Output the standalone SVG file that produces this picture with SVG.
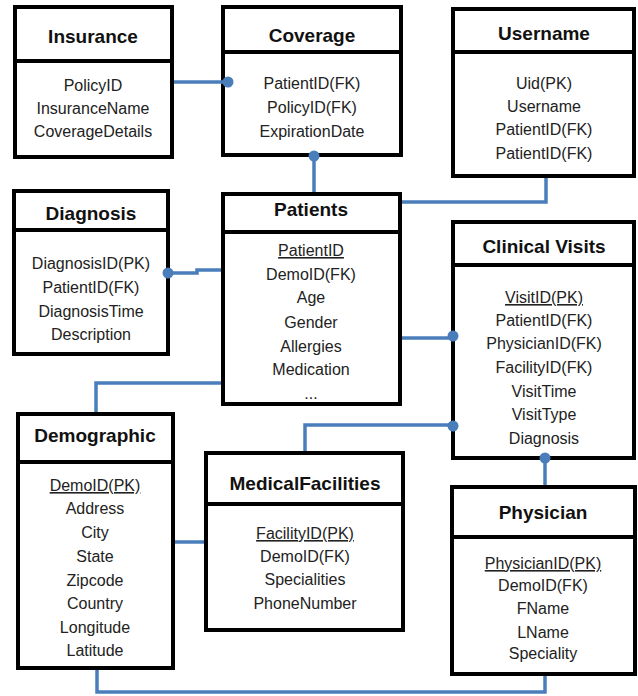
<svg xmlns="http://www.w3.org/2000/svg" width="638" height="696" viewBox="0 0 638 696">
<style>
.box{fill:#fff;stroke:#000;stroke-width:4}
.div{stroke:#000;stroke-width:4}
.t{font-family:"Liberation Sans",Arial,sans-serif;font-size:19px;font-weight:bold;text-anchor:middle;fill:#111}
.f{font-family:"Liberation Sans",Arial,sans-serif;font-size:16px;text-anchor:middle;fill:#222}
.u{text-decoration:underline}
.c{fill:none;stroke:#4a7ebb;stroke-width:3.5}
.d{fill:#4a7ebb}
</style>
<rect width="638" height="696" fill="#fff"/>
<g id="insurance">
<rect class="box" x="15" y="7" width="157" height="150"/>
<line class="div" x1="15" y1="61" x2="172" y2="61"/>
<text class="t" x="93" y="43">Insurance</text>
<text class="f" x="93" y="91">PolicyID</text>
<text class="f" x="93" y="114">InsuranceName</text>
<text class="f" x="93" y="137">CoverageDetails</text>
</g>
<g id="coverage">
<rect class="box" x="223" y="7" width="178" height="148"/>
<line class="div" x1="223" y1="52" x2="401" y2="52"/>
<text class="t" x="312" y="42">Coverage</text>
<text class="f" x="312" y="89">PatientID(FK)</text>
<text class="f" x="312" y="113">PolicyID(FK)</text>
<text class="f" x="312" y="137">ExpirationDate</text>
</g>
<g id="username">
<rect class="box" x="453" y="9" width="181" height="167"/>
<line class="div" x1="453" y1="52" x2="634" y2="52"/>
<text class="t" x="544" y="40">Username</text>
<text class="f" x="544" y="89">Uid(PK)</text>
<text class="f" x="544" y="112">Username</text>
<text class="f" x="544" y="135">PatientID(FK)</text>
<text class="f" x="544" y="159">PatientID(FK)</text>
</g>
<g id="diagnosis">
<rect class="box" x="14" y="191" width="154" height="163"/>
<line class="div" x1="14" y1="230" x2="168" y2="230"/>
<text class="t" x="91" y="220">Diagnosis</text>
<text class="f" x="91" y="269">DiagnosisID(PK)</text>
<text class="f" x="91" y="293">PatientID(FK)</text>
<text class="f" x="91" y="317">DiagnosisTime</text>
<text class="f" x="91" y="340">Description</text>
</g>
<g id="patients">
<rect class="box" x="223" y="194" width="177" height="210"/>
<line class="div" x1="223" y1="232" x2="400" y2="232"/>
<text class="t" x="311" y="216">Patients</text>
<text class="f u" x="311" y="256">PatientID</text>
<text class="f" x="311" y="280">DemoID(FK)</text>
<text class="f" x="311" y="303">Age</text>
<text class="f" x="311" y="328">Gender</text>
<text class="f" x="311" y="352">Allergies</text>
<text class="f" x="311" y="375">Medication</text>
<text class="f" x="311" y="399">...</text>
</g>
<g id="clinical-visits">
<rect class="box" x="453" y="222" width="181" height="236"/>
<line class="div" x1="453" y1="265" x2="634" y2="265"/>
<text class="t" x="544" y="253">Clinical Visits</text>
<text class="f u" x="544" y="303">VisitID(PK)</text>
<text class="f" x="544" y="326">PatientID(FK)</text>
<text class="f" x="544" y="349">PhysicianID(FK)</text>
<text class="f" x="544" y="373">FacilityID(FK)</text>
<text class="f" x="544" y="397">VisitTime</text>
<text class="f" x="544" y="420">VisitType</text>
<text class="f" x="544" y="444">Diagnosis</text>
</g>
<g id="demographic">
<rect class="box" x="18" y="414" width="155" height="254"/>
<line class="div" x1="18" y1="462" x2="173" y2="462"/>
<text class="t" x="95" y="442">Demographic</text>
<text class="f u" x="95" y="491">DemoID(PK)</text>
<text class="f" x="95" y="514">Address</text>
<text class="f" x="95" y="538">City</text>
<text class="f" x="95" y="562">State</text>
<text class="f" x="95" y="586">Zipcode</text>
<text class="f" x="95" y="609">Country</text>
<text class="f" x="95" y="633">Longitude</text>
<text class="f" x="95" y="656">Latitude</text>
</g>
<g id="medical-facilities">
<rect class="box" x="206" y="453" width="197" height="177"/>
<line class="div" x1="206" y1="504" x2="405" y2="504"/>
<text class="t" x="305" y="490">MedicalFacilities</text>
<text class="f u" x="305" y="539">FacilityID(PK)</text>
<text class="f" x="305" y="562">DemoID(FK)</text>
<text class="f" x="305" y="585">Specialities</text>
<text class="f" x="305" y="609">PhoneNumber</text>
</g>
<g id="physician">
<rect class="box" x="452" y="487" width="183" height="187"/>
<line class="div" x1="452" y1="537" x2="635" y2="537"/>
<text class="t" x="543" y="519">Physician</text>
<text class="f u" x="543" y="569">PhysicianID(PK)</text>
<text class="f" x="543" y="591">DemoID(FK)</text>
<text class="f" x="543" y="614">FName</text>
<text class="f" x="543" y="638">LName</text>
<text class="f" x="543" y="659">Speciality</text>
</g>
<g id="connectors">
<path class="c" d="M174,82 H228"/>
<path class="c" d="M314,156 V192"/>
<path class="c" d="M546,178 V202 H402"/>
<path class="c" d="M168,273 H197 V270 H221"/>
<path class="c" d="M221,383 H96 V412"/>
<path class="c" d="M402,338 H453"/>
<path class="c" d="M305,451 V425 H453"/>
<path class="c" d="M545,458 V485"/>
<path class="c" d="M175,542 H204"/>
<path class="c" d="M97,670 V692 H545 V676"/>
<circle class="d" cx="228" cy="82" r="5.5"/>
<circle class="d" cx="314" cy="156" r="5.5"/>
<circle class="d" cx="168" cy="273" r="5.5"/>
<circle class="d" cx="453" cy="336" r="5.5"/>
<circle class="d" cx="453" cy="426" r="5.5"/>
<circle class="d" cx="545" cy="458" r="5.5"/>
</g>
</svg>
